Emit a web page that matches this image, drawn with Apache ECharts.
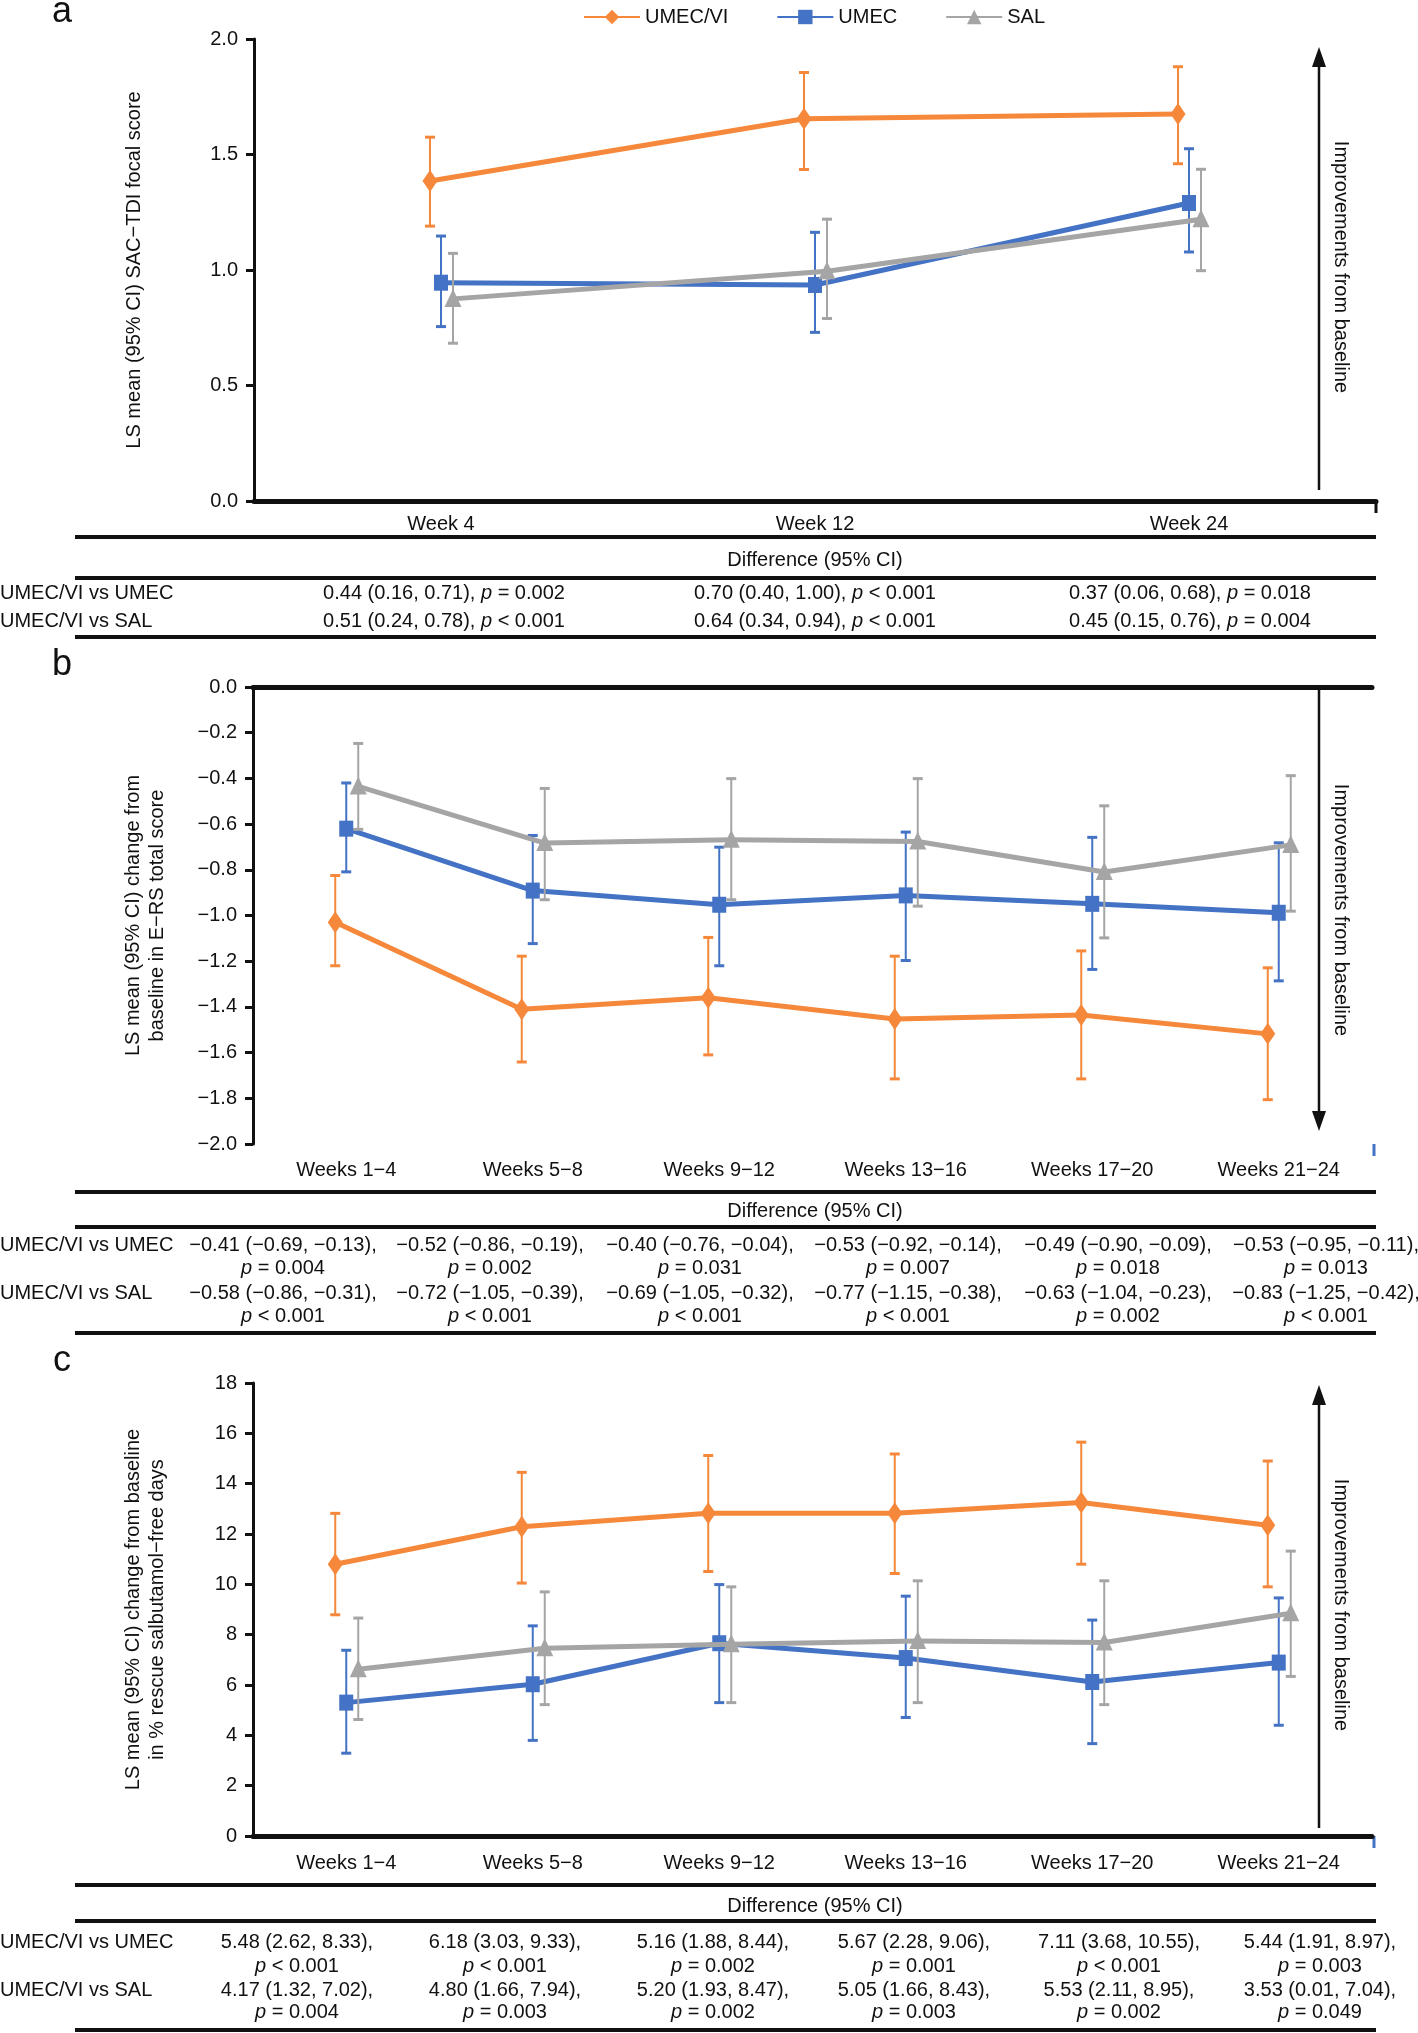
<!DOCTYPE html>
<html><head><meta charset="utf-8">
<script src="https://cdn.jsdelivr.net/npm/echarts@6/dist/echarts.min.js"></script>
<style>html,body{margin:0;padding:0;background:#fff}#c{width:1418px;height:2033px}</style>
</head><body><div id="c"></div>
<script>
const FONT = '"Liberation Sans", Arial, Helvetica, sans-serif';
const groups = ['UMEC/VI', 'UMEC', 'SAL'];
const colors = ['#F5883A', '#4472C4', '#A5A5A5'];

// ---- Panel a ----
const catsA = ['Week 4', 'Week 12', 'Week 24'];
const aUmecViMean = [1.385, 1.655, 1.675];
const aUmecViLow  = [1.19, 1.435, 1.46];
const aUmecViHigh = [1.575, 1.855, 1.88];
const aUmecMean = [0.945, 0.935, 1.29];
const aUmecLow  = [0.755, 0.73, 1.078];
const aUmecHigh = [1.147, 1.163, 1.525];
const aSalMean = [0.875, 0.995, 1.22];
const aSalLow  = [0.683, 0.79, 0.997];
const aSalHigh = [1.072, 1.22, 1.436];
const aVsUmecEst = ['0.44 (0.16, 0.71)', '0.70 (0.40, 1.00)', '0.37 (0.06, 0.68)'];
const aVsUmecP   = ['= 0.002', '< 0.001', '= 0.018'];
const aVsSalEst  = ['0.51 (0.24, 0.78)', '0.64 (0.34, 0.94)', '0.45 (0.15, 0.76)'];
const aVsSalP    = ['< 0.001', '< 0.001', '= 0.004'];

// ---- Panel b ----
const catsB = ['Weeks 1−4', 'Weeks 5−8', 'Weeks 9−12', 'Weeks 13−16', 'Weeks 17−20', 'Weeks 21−24'];
const bUmecViMean = [-1.03, -1.41, -1.36, -1.453, -1.435, -1.518];
const bUmecViLow  = [-1.22, -1.641, -1.61, -1.715, -1.715, -1.806];
const bUmecViHigh = [-0.825, -1.178, -1.096, -1.178, -1.155, -1.229];
const bUmecMean = [-0.62, -0.891, -0.953, -0.912, -0.949, -0.988];
const bUmecLow  = [-0.809, -1.123, -1.22, -1.197, -1.236, -1.286];
const bUmecHigh = [-0.42, -0.65, -0.701, -0.635, -0.658, -0.682];
const bSalMean = [-0.435, -0.683, -0.669, -0.676, -0.81, -0.691];
const bSalLow  = [-0.623, -0.931, -0.931, -0.959, -1.098, -0.981];
const bSalHigh = [-0.247, -0.444, -0.401, -0.401, -0.52, -0.388];
const bVsUmecEst = ['−0.41 (−0.69, −0.13)', '−0.52 (−0.86, −0.19)', '−0.40 (−0.76, −0.04)', '−0.53 (−0.92, −0.14)', '−0.49 (−0.90, −0.09)', '−0.53 (−0.95, −0.11)'];
const bVsUmecP   = ['= 0.004', '= 0.002', '= 0.031', '= 0.007', '= 0.018', '= 0.013'];
const bVsSalEst  = ['−0.58 (−0.86, −0.31)', '−0.72 (−1.05, −0.39)', '−0.69 (−1.05, −0.32)', '−0.77 (−1.15, −0.38)', '−0.63 (−1.04, −0.23)', '−0.83 (−1.25, −0.42)'];
const bVsSalP    = ['< 0.001', '< 0.001', '< 0.001', '< 0.001', '= 0.002', '< 0.001'];

// ---- Panel c ----
const catsC = catsB;
const cUmecViMean = [10.8, 12.29, 12.82, 12.82, 13.25, 12.35];
const cUmecViLow  = [8.79, 10.05, 10.51, 10.43, 10.8, 9.9];
const cUmecViHigh = [12.82, 14.45, 15.12, 15.18, 15.65, 14.9];
const cUmecMean = [5.3, 6.03, 7.66, 7.07, 6.12, 6.89];
const cUmecLow  = [3.29, 3.8, 5.3, 4.71, 3.67, 4.4];
const cUmecHigh = [7.38, 8.35, 9.99, 9.53, 8.58, 9.46];
const cSalMean = [6.63, 7.46, 7.62, 7.75, 7.69, 8.85];
const cSalLow  = [4.63, 5.22, 5.3, 5.3, 5.22, 6.34];
const cSalHigh = [8.66, 9.7, 9.9, 10.14, 10.14, 11.32];
const cVsUmecEst = ['5.48 (2.62, 8.33)', '6.18 (3.03, 9.33)', '5.16 (1.88, 8.44)', '5.67 (2.28, 9.06)', '7.11 (3.68, 10.55)', '5.44 (1.91, 8.97)'];
const cVsUmecP   = ['< 0.001', '< 0.001', '= 0.002', '= 0.001', '< 0.001', '= 0.003'];
const cVsSalEst  = ['4.17 (1.32, 7.02)', '4.80 (1.66, 7.94)', '5.20 (1.93, 8.47)', '5.05 (1.66, 8.43)', '5.53 (2.11, 8.95)', '3.53 (0.01, 7.04)'];
const cVsSalP    = ['= 0.004', '= 0.003', '= 0.002', '= 0.003', '= 0.002', '= 0.049'];

// ---- layout ----
const grids = [
  {left: 254, right: 42, top: 39, height: 462},
  {left: 253, right: 46, top: 687, height: 457},
  {left: 253, right: 46, top: 1383, height: 453}
];
const dxs = [-11, 0, 12];
const shapes = ['diamond', 'square', 'triangle'];
const TXT = '#111';

function marker(shape, x, y, color) {
  if (shape === 'diamond') {
    return {type: 'polygon', z2: 3, shape: {points: [[x, y - 11], [x + 7.5, y], [x, y + 11], [x - 7.5, y]]}, style: {fill: color}};
  }
  if (shape === 'square') {
    return {type: 'rect', z2: 3, shape: {x: x - 7, y: y - 8, width: 14, height: 16}, style: {fill: color}};
  }
  return {type: 'polygon', z2: 3, shape: {points: [[x, y - 10], [x + 8.5, y + 8], [x - 8.5, y + 8]]}, style: {fill: color}};
}

function makeRender(dx, shape, color) {
  return function (params, api) {
    const i = params.dataIndexInside;
    const n = params.dataInsideLength;
    const p = api.coord([api.value(0), api.value(1)]);
    const lo = api.coord([api.value(0), api.value(2)]);
    const hi = api.coord([api.value(0), api.value(3)]);
    const x = p[0] + dx;
    const ch = [];
    if (i < n - 1) {
      const q = api.coord([api.value(0, i + 1), api.value(1, i + 1)]);
      ch.push({type: 'line', z2: 1, shape: {x1: x, y1: p[1], x2: q[0] + dx, y2: q[1]}, style: {stroke: color, lineWidth: 5, lineCap: 'round'}});
    }
    ch.push({type: 'line', z2: 2, shape: {x1: x, y1: lo[1], x2: x, y2: hi[1]}, style: {stroke: color, lineWidth: 2}});
    ch.push({type: 'line', z2: 2, shape: {x1: x - 5, y1: lo[1], x2: x + 5, y2: lo[1]}, style: {stroke: color, lineWidth: 3}});
    ch.push({type: 'line', z2: 2, shape: {x1: x - 5, y1: hi[1], x2: x + 5, y2: hi[1]}, style: {stroke: color, lineWidth: 3}});
    ch.push(marker(shape, x, p[1], color));
    return {type: 'group', children: ch};
  };
}

const panels = [
  {cats: catsA, means: [aUmecViMean, aUmecMean, aSalMean], lows: [aUmecViLow, aUmecLow, aSalLow], highs: [aUmecViHigh, aUmecHigh, aSalHigh],
   min: 0, max: 2, interval: 0.5, fmt: v => v.toFixed(1), name: 'LS mean (95% CI) SAC−TDI focal score', nameGap: 108, labelMargin: 13},
  {cats: catsB, means: [bUmecViMean, bUmecMean, bSalMean], lows: [bUmecViLow, bUmecLow, bSalLow], highs: [bUmecViHigh, bUmecHigh, bSalHigh],
   min: -2, max: 0, interval: 0.2, fmt: v => v.toFixed(1).replace('-', '−'), name: 'LS mean (95% CI) change from\nbaseline in E−RS total score', nameGap: 84, labelMargin: 16},
  {cats: catsC, means: [cUmecViMean, cUmecMean, cSalMean], lows: [cUmecViLow, cUmecLow, cSalLow], highs: [cUmecViHigh, cUmecHigh, cSalHigh],
   min: 0, max: 18, interval: 2, fmt: v => String(v), name: 'LS mean (95% CI) change from baseline\nin % rescue salbutamol−free days', nameGap: 84, labelMargin: 17}
];

const xAxes = [], yAxes = [], series = [];
// legend-only series
groups.forEach((g, k) => {
  series.push({type: 'line', name: g, data: [], xAxisIndex: 0, yAxisIndex: 0,
    symbol: shapes[k] === 'square' ? 'rect' : shapes[k], symbolSize: 16,
    itemStyle: {color: colors[k]}, lineStyle: {color: colors[k], width: 5}});
});
panels.forEach((pn, pi) => {
  xAxes.push({type: 'category', gridIndex: pi, data: pn.cats,
    axisLine: {lineStyle: {color: '#111', width: 5}},
    axisTick: {alignWithLabel: true, length: 11, lineStyle: {color: '#111', width: 3}},
    axisLabel: {color: TXT, fontSize: 20, fontFamily: FONT, margin: pn.labelMargin}});
  yAxes.push({type: 'value', gridIndex: pi, min: pn.min, max: pn.max, interval: pn.interval,
    name: pn.name, nameLocation: 'middle', nameRotate: 90, nameGap: pn.nameGap,
    nameTextStyle: {color: TXT, fontSize: 20, fontFamily: FONT, lineHeight: 24},
    axisLine: {show: true, lineStyle: {color: '#111', width: 3}},
    axisTick: {show: true, length: 8, lineStyle: {color: '#111', width: 3}},
    splitLine: {show: false},
    axisLabel: {color: TXT, fontSize: 20, fontFamily: FONT, margin: 16, formatter: pn.fmt}});
  groups.forEach((g, k) => {
    series.push({type: 'custom', name: g, xAxisIndex: pi, yAxisIndex: pi, z: 3 + k,
      encode: {x: 0, y: 1},
      data: pn.cats.map((c, i) => [i, pn.means[k][i], pn.lows[k][i], pn.highs[k][i]]),
      itemStyle: {color: colors[k]},
      renderItem: makeRender(dxs[k], shapes[k], colors[k])});
  });
});

// ---- graphics: tables, arrows, panel letters ----
const G = [];
const rich = {i: {fontStyle: 'italic', fontSize: 20, fontFamily: FONT, fill: TXT}};
function txt(x, y, text, align) {
  G.push({type: 'text', x: x, y: y, silent: true,
    style: {text: text, fontSize: 20, fontFamily: FONT, fill: TXT, align: align || 'center', verticalAlign: 'middle', rich: rich}});
}
function hline(y) {
  G.push({type: 'line', silent: true, shape: {x1: 75, y1: y, x2: 1376, y2: y}, style: {stroke: '#111', lineWidth: 4}});
}
function letter(y, t) {
  G.push({type: 'text', x: 62, y: y, silent: true, style: {text: t, fontSize: 36, fontFamily: FONT, fill: TXT, align: 'center', verticalAlign: 'middle'}});
}
function arrow(x, yFrom, yTip, ty) {
  const up = yTip < yFrom;
  const hb = up ? yTip + 20 : yTip - 20;
  G.push({type: 'line', silent: true, shape: {x1: x, y1: yFrom, x2: x, y2: hb}, style: {stroke: '#111', lineWidth: 2.5}});
  G.push({type: 'polygon', silent: true, shape: {points: [[x, yTip], [x + 7, hb], [x - 7, hb]]}, style: {fill: '#111'}});
  G.push({type: 'text', x: x + 22, y: ty, rotation: -Math.PI / 2, silent: true,
    style: {text: 'Improvements from baseline', fontSize: 20, fontFamily: FONT, fill: TXT, align: 'center', verticalAlign: 'middle'}});
}
function endTick(x, y, color) {
  G.push({type: 'line', silent: true, shape: {x1: x, y1: y, x2: x, y2: y + 12}, style: {stroke: color, lineWidth: 3}});
}
const p = s => ', {i|p} ' + s;

letter(12, 'a'); letter(665, 'b'); letter(1361, 'c');
arrow(1319, 490, 47, 267);
arrow(1319, 690, 1131, 910);
arrow(1319, 1828, 1385, 1605);
endTick(1376, 501, '#111');
endTick(1374, 1144, '#4472C4');
endTick(1374, 1836, '#4472C4');

// table a
const colA = [444, 815, 1190];
hline(537); txt(815, 560, 'Difference (95% CI)'); hline(578);
txt(0, 593, 'UMEC/VI vs UMEC', 'left'); txt(0, 621, 'UMEC/VI vs SAL', 'left');
colA.forEach((x, i) => { txt(x, 593, aVsUmecEst[i] + p(aVsUmecP[i])); txt(x, 621, aVsSalEst[i] + p(aVsSalP[i])); });
hline(637);

// table b
const colB = [283, 490, 700, 908, 1118, 1326];
hline(1192); txt(815, 1211, 'Difference (95% CI)'); hline(1227);
txt(0, 1245, 'UMEC/VI vs UMEC', 'left'); txt(0, 1293, 'UMEC/VI vs SAL', 'left');
colB.forEach((x, i) => {
  txt(x, 1245, bVsUmecEst[i] + ','); txt(x, 1268, '{i|p} ' + bVsUmecP[i]);
  txt(x, 1293, bVsSalEst[i] + ','); txt(x, 1316, '{i|p} ' + bVsSalP[i]);
});
hline(1333);

// table c
const colC = [297, 505, 713, 914, 1119, 1320];
hline(1885); txt(815, 1906, 'Difference (95% CI)'); hline(1921);
txt(0, 1942, 'UMEC/VI vs UMEC', 'left'); txt(0, 1990, 'UMEC/VI vs SAL', 'left');
colC.forEach((x, i) => {
  txt(x, 1942, cVsUmecEst[i] + ','); txt(x, 1966, '{i|p} ' + cVsUmecP[i]);
  txt(x, 1990, cVsSalEst[i] + ','); txt(x, 2012, '{i|p} ' + cVsSalP[i]);
});
hline(2030);

const chart = echarts.init(document.getElementById('c'), null, {renderer: 'canvas'});
chart.setOption({
  animation: false,
  backgroundColor: '#fff',
  textStyle: {fontFamily: FONT},
  legend: {data: groups, left: 578, top: 2, itemWidth: 56, itemHeight: 18, itemGap: 48,
    textStyle: {color: TXT, fontSize: 20, fontFamily: FONT}},
  grid: grids,
  xAxis: xAxes,
  yAxis: yAxes,
  series: series,
  graphic: G
});
</script>
</body></html>
